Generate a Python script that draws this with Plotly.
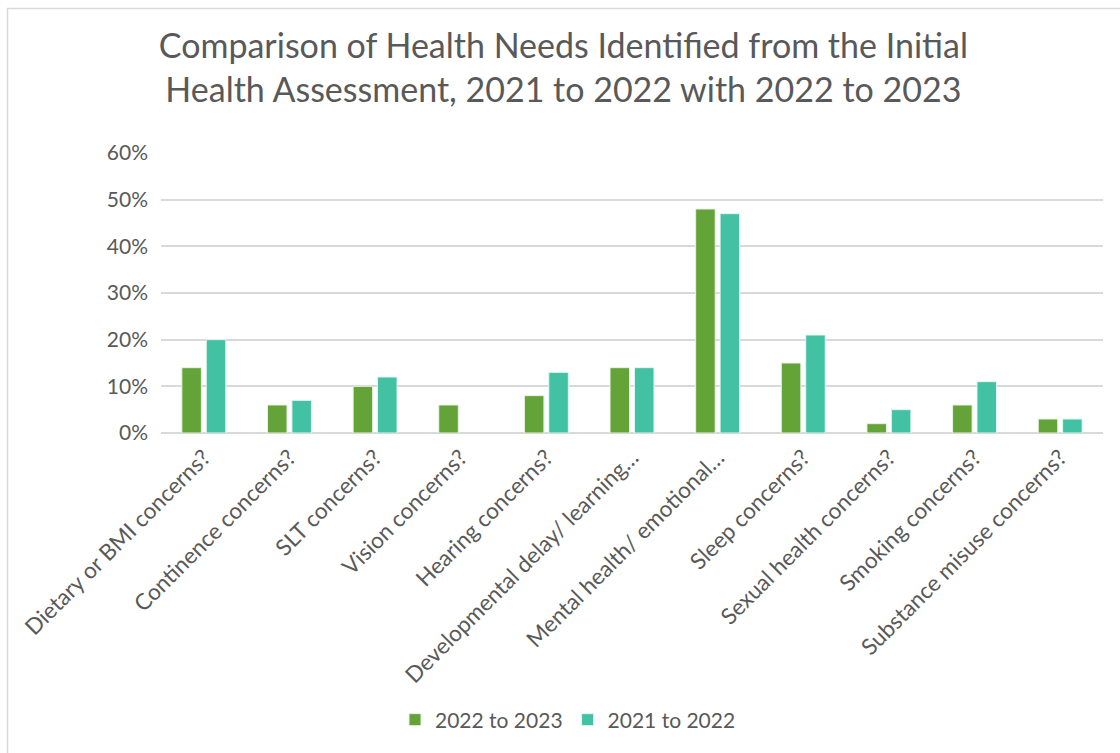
import plotly.graph_objects as go

categories = [
    "Dietary or BMI concerns?",
    "Continence concerns?",
    "SLT concerns?",
    "Vision concerns?",
    "Hearing concerns?",
    "Developmental delay/ learning…",
    "Mental health/ emotional…",
    "Sleep concerns?",
    "Sexual health concerns?",
    "Smoking concerns?",
    "Substance misuse concerns?",
]
values_2022_23 = [0.14, 0.06, 0.10, 0.06, 0.08, 0.14, 0.48, 0.15, 0.02, 0.06, 0.03]
values_2021_22 = [0.20, 0.07, 0.12, None, 0.13, 0.14, 0.47, 0.21, 0.05, 0.11, 0.03]
y_ticks = [0, 0.1, 0.2, 0.3, 0.4, 0.5, 0.6]
y_tick_labels = ["0%", "10%", "20%", "30%", "40%", "50%", "60%"]

GREEN = "#63a337"
TEAL = "#43c1a3"
TEXT = "#595959"
GRID = "#d9d9d9"
FONT = "Lato, 'Open Sans', sans-serif"

W, H = 1120, 753
ML, MR, MT, MB = 161, 17, 153, 320
PW, PH = W - ML - MR, H - MT - MB


def px_x(px):
    return (px - ML) / PW


def px_y(py):
    return (H - MB - py) / PH


fig = go.Figure()
fig.add_bar(x=categories, y=values_2022_23, name="2022 to 2023",
            marker=dict(color=GREEN, line=dict(color="#e9f2e3", width=1)))
fig.add_bar(x=categories, y=values_2021_22, name="2021 to 2022",
            marker=dict(color=TEAL, line=dict(color="#e3f6f1", width=1)))

fig.update_layout(
    width=W, height=H,
    margin=dict(l=ML, r=MR, t=MT, b=MB),
    paper_bgcolor="white", plot_bgcolor="white",
    barmode="group", bargap=0.43, bargroupgap=0.2,
    font=dict(family=FONT, color=TEXT, size=21),
    title=dict(
        text="Comparison of Health Needs Identified from the Initial<br>Health Assessment, 2021 to 2022 with 2022 to 2023",
        x=0.503, xanchor="center", y=1 - 58 / H, yanchor="middle",
        font=dict(family=FONT, size=34, color=TEXT),
    ),
    showlegend=True,
    legend=dict(orientation="h", x=px_x(568), xanchor="center",
                y=px_y(720), yanchor="middle",
                font=dict(size=21, color=TEXT), itemwidth=30,
                traceorder="normal"),
    xaxis=dict(tickangle=-45, showgrid=False, showline=False, ticks="",
               ticklabelstandoff=6,
               tickfont=dict(size=22.5, color=TEXT)),
    yaxis=dict(range=[0, 0.6], tickvals=y_ticks, ticktext=y_tick_labels,
               showgrid=True, gridcolor=GRID, gridwidth=1.5,
               zeroline=True, zerolinecolor=GRID, zerolinewidth=1.5,
               showline=False, ticks="", ticklabelstandoff=12,
               tickfont=dict(size=21, color=TEXT)),
    shapes=[dict(type="rect", xref="paper", yref="paper",
                 x0=px_x(7.5), x1=px_x(1130), y0=px_y(770), y1=px_y(8.5),
                 line=dict(color="#d9d9d9", width=1.5), fillcolor="rgba(0,0,0,0)",
                 layer="below")],
)

fig.write_html("out.html")
